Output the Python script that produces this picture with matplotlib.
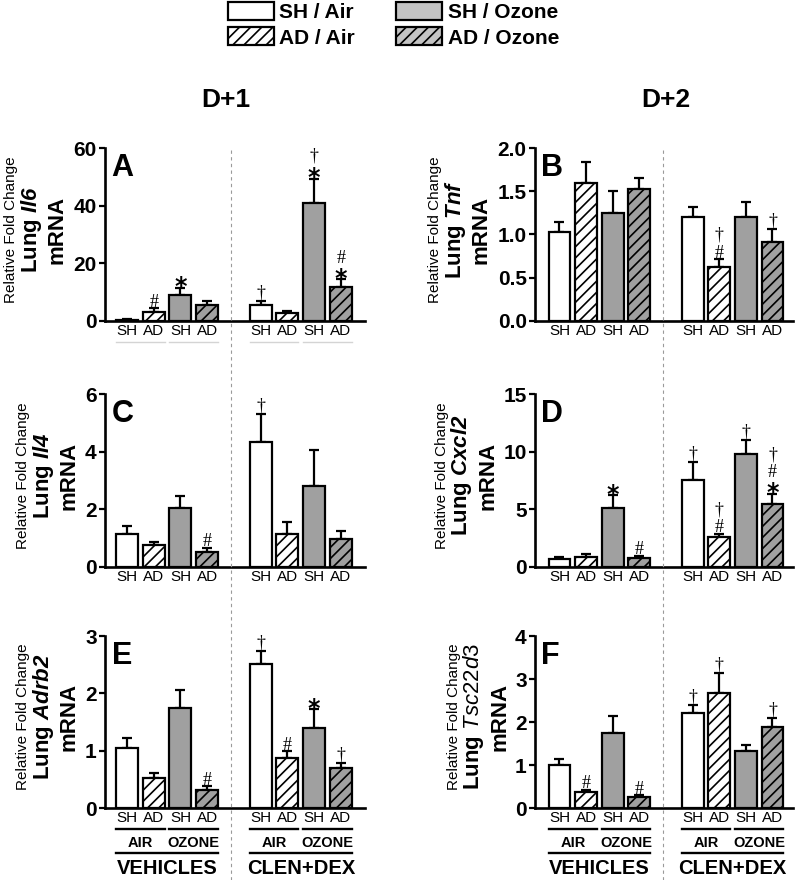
"""
Lung mRNA fold change, D+1 / D+2, vehicles vs CLEN+DEX.
"""
import numpy as np
import matplotlib
matplotlib.use('Agg')
from matplotlib import pyplot as plt
from matplotlib.patches import Patch
from matplotlib.lines import Line2D

plt.rcParams['font.family'] = ['Liberation Sans', 'DejaVu Sans']
plt.rcParams['mathtext.fontset'] = 'custom'
plt.rcParams['mathtext.rm'] = 'Liberation Sans'
plt.rcParams['mathtext.it'] = 'Liberation Sans:italic'
plt.rcParams['mathtext.bf'] = 'Liberation Sans:bold'
plt.rcParams['mathtext.bfit'] = 'Liberation Sans:italic:bold'
plt.rcParams['hatch.linewidth'] = 1.2

# data
groups = ['SH', 'AD', 'SH', 'AD', 'SH', 'AD', 'SH', 'AD']

il6_mean = [0.5, 3.1, 9.0, 5.4, 5.7, 2.8, 40.8, 11.8]
il6_sem = [0.3, 1.4, 2.6, 1.6, 1.3, 0.7, 8.6, 2.7]
il6_sig = ['', '#', '*', '', '†', '', '*†', '*#']

tnf_mean = [1.03, 1.60, 1.25, 1.53, 1.20, 0.63, 1.20, 0.91]
tnf_sem = [0.12, 0.24, 0.25, 0.12, 0.12, 0.085, 0.18, 0.155]
tnf_sig = ['', '', '', '', '', '#†', '', '†']

il4_mean = [1.13, 0.76, 2.04, 0.52, 4.34, 1.14, 2.82, 0.98]
il4_sem = [0.29, 0.11, 0.41, 0.14, 0.97, 0.42, 1.23, 0.28]
il4_sig = ['', '', '', '#', '†', '', '', '']

cxcl2_mean = [0.72, 0.90, 5.12, 0.81, 7.58, 2.62, 9.83, 5.49]
cxcl2_sem = [0.18, 0.23, 1.10, 0.17, 1.55, 0.26, 1.17, 0.85]
cxcl2_sig = ['', '', '*', '#', '†', '#†', '†', '*#†']

adrb2_mean = [1.05, 0.53, 1.75, 0.31, 2.52, 0.87, 1.40, 0.69]
adrb2_sem = [0.17, 0.08, 0.31, 0.07, 0.21, 0.12, 0.32, 0.10]
adrb2_sig = ['', '', '', '#', '†', '#', '*', '†']

tsc_mean = [1.01, 0.37, 1.74, 0.25, 2.20, 2.67, 1.32, 1.88]
tsc_sem = [0.13, 0.06, 0.40, 0.05, 0.19, 0.47, 0.15, 0.22]
tsc_sig = ['', '#', '', '#', '†', '†', '', '†']

# layout
positions = [0, 1, 2, 3, 5, 6, 7, 8]
fills = ['white', 'white', '#a0a0a0', '#a0a0a0'] * 2
hatches = [None, '///', None, '///'] * 2
W, H = 800, 880
PT = 100 / 72.0

# letter, gene label, mean, sem, sig, ymax, step, rect (px), xlim, ylabel offset (px)
panels = [
  ('A', r'Lung $\mathbfit{Il6}$', il6_mean, il6_sem, il6_sig, 60, 20, (105, 148, 260, 173), (-0.82, 8.9), 48),
  ('B', r'Lung $\mathbfit{Tnf}$', tnf_mean, tnf_sem, tnf_sig, 2.0, 0.5, (535, 148, 258, 173), (-0.92, 8.77), 54),
  ('C', r'Lung $\mathbfit{Il4}$', il4_mean, il4_sem, il4_sig, 6, 2, (105, 394, 260, 173), (-0.82, 8.9), 36),
  ('D', r'Lung $\mathbfit{Cxcl2}$', cxcl2_mean, cxcl2_sem, cxcl2_sig, 15, 5, (535, 394, 258, 173), (-0.92, 8.77), 47),
  ('E', r'Lung $\mathbfit{Adrb2}$', adrb2_mean, adrb2_sem, adrb2_sig, 3, 1, (105, 636, 260, 172), (-0.82, 8.9), 36),
  ('F', r'Lung $\mathit{Tsc22d3}$', tsc_mean, tsc_sem, tsc_sig, 4, 1, (535, 636, 258, 172), (-0.92, 8.77), 35),
]

# symbol style: family, size, weight, ink shift (px), gap to next symbol (px)
sym_style = {
  '*': ('DejaVu Sans', 17, 'bold', 7.5, 15),
  '#': ('Liberation Serif', 13, 'normal', 2, 16),
  '†': ('Liberation Serif', 13, 'normal', 0, 16),
}

fig = plt.figure(figsize=(8, 8.8), dpi=100)
axes = {}

for letter, gene, mean, sem, sig, ymax, step, rect, xlim, lpad in panels:
  x0, ytop, w, h = rect
  ax = fig.add_axes([x0 / W, 1 - (ytop + h) / H, w / W, h / H])
  axes[letter] = ax

  bars = ax.bar(positions, mean, width=0.82, color=fills, edgecolor='black',
                linewidth=1.6, zorder=3)
  for b, hp in zip(bars, hatches):
    if hp:
      b.set_hatch(hp)
  ax.errorbar(positions, mean, yerr=[np.zeros(len(mean)), sem], fmt='none',
              ecolor='black', elinewidth=1.6, capsize=3.8, capthick=1.6, zorder=2)

  # significance marks stacked above the error bar
  for p, m, s, stack in zip(positions, mean, sem, sig):
    off = 8
    for ch in stack:
      fam, size, weight, shift, gap = sym_style[ch]
      ax.annotate(ch, xy=(p, m + s), xytext=(0, (off - shift) / PT), textcoords='offset points',
                  ha='center', va='center', family=fam, fontsize=size, fontweight=weight,
                  annotation_clip=False)
      off += gap

  ax.set_xlim(*xlim)
  ax.set_ylim(0, ymax)
  ticks = np.arange(0, ymax + step / 2, step)
  if step < 1:
    tlabels = ['%.1f' % t for t in ticks]
  else:
    tlabels = ['%d' % t for t in ticks]
  ax.set_yticks(ticks, labels=tlabels, fontsize=15, fontweight='bold')
  ax.set_xticks(positions, labels=groups, fontsize=11)
  ax.tick_params(axis='x', length=0, pad=2)
  ax.tick_params(axis='y', length=4, width=1.6, pad=2)
  for side in ['top', 'right']:
    ax.spines[side].set_visible(False)
  for side in ['left', 'bottom']:
    ax.spines[side].set_linewidth(1.9)

  ax.text(0.025, 0.97, letter, transform=ax.transAxes, fontsize=22,
          fontweight='bold', ha='left', va='top')

  # y label, three lines
  ax.annotate('mRNA', xy=(0, 0.5), xycoords='axes fraction',
              xytext=(-lpad / PT, 5 / PT), textcoords='offset points',
              rotation=90, ha='center', va='center', fontsize=16, fontweight='bold')
  ax.annotate(gene, xy=(0, 0.5), xycoords='axes fraction',
              xytext=(-(lpad + 26) / PT, 5 / PT), textcoords='offset points',
              rotation=90, ha='center', va='center', fontsize=16, fontweight='bold')
  ax.annotate('Relative Fold Change', xy=(0, 0.5), xycoords='axes fraction',
              xytext=(-(lpad + 46) / PT, 5 / PT), textcoords='offset points',
              rotation=90, ha='center', va='center', fontsize=11)

# faint underlines in panel A
tr = axes['A'].get_xaxis_transform()
for a, b in [(0, 1), (2, 3), (5, 6), (7, 8)]:
  axes['A'].plot([a - 0.41, b + 0.41], [-0.121, -0.121], transform=tr,
                 color='#d4d4d4', lw=1, clip_on=False)

# group labels under bottom row
for key in ['E', 'F']:
  ax = axes[key]
  tr = ax.get_xaxis_transform()
  for a, b, name in [(0, 1, 'AIR'), (2, 3, 'OZONE'), (5, 6, 'AIR'), (7, 8, 'OZONE')]:
    ax.plot([a - 0.41, b + 0.41], [-0.122, -0.122], transform=tr,
            color='black', lw=1.7, clip_on=False)
    ax.text((a + b) / 2, -0.203, name, transform=tr, ha='center', va='center',
            fontsize=10.5, fontweight='bold')
  for a, b, name in [(0, 3, 'VEHICLES'), (5, 8, 'CLEN+DEX')]:
    ax.plot([a - 0.41, b + 0.41], [-0.262, -0.262], transform=tr,
            color='black', lw=1.7, clip_on=False)
    ax.text((a + b) / 2, -0.352, name, transform=tr, ha='center', va='center',
            fontsize=14.5, fontweight='bold')

# dashed separators between treatments
for key in ['A', 'B']:
  ax = axes[key]
  xd = ax.transData.transform((3.9, 0))[0]
  xf = fig.transFigure.inverted().transform((xd, 0))[0]
  fig.add_artist(Line2D([xf, xf], [0, 1 - 148 / H], transform=fig.transFigure,
                        color='#9a9a9a', lw=0.8, ls=(0, (3, 3))))

# column titles
fig.text(226 / W, 1 - 100 / H, 'D+1', fontsize=19, fontweight='bold', ha='center', va='center')
fig.text(666 / W, 1 - 100 / H, 'D+2', fontsize=19, fontweight='bold', ha='center', va='center')

# legend
lg_gray = '#c4c4c4'
handles = [
  Patch(facecolor='white', edgecolor='black', lw=1.6),
  Patch(facecolor='white', edgecolor='black', lw=1.6, hatch='///'),
  Patch(facecolor=lg_gray, edgecolor='black', lw=1.6),
  Patch(facecolor=lg_gray, edgecolor='black', lw=1.6, hatch='///'),
]
labels = ['SH / Air', 'AD / Air', 'SH / Ozone', 'AD / Ozone']
fig.legend(handles, labels, ncol=2, loc='upper left', bbox_to_anchor=(228 / W, 1 - 2 / H),
           frameon=False, prop={'weight': 'bold', 'size': 15}, handlelength=2.2,
           handleheight=0.95, handletextpad=0.25, columnspacing=2.0, labelspacing=0.25,
           borderpad=0, borderaxespad=0)

fig.savefig('out.png', dpi=100)
